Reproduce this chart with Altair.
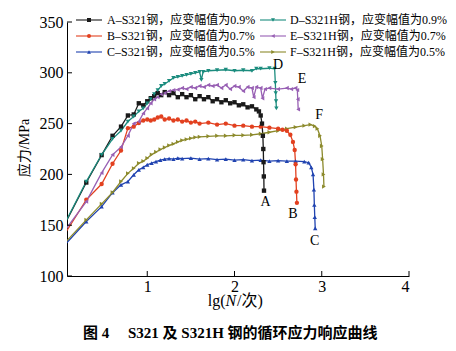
import altair as alt
import pandas as pd

SERIES = ["A", "B", "C", "D", "E", "F"]
COLORS = ["#1a1a1a", "#e2401f", "#2043b0", "#1b8c7e", "#9860b4", "#8c8a2c"]
SHAPES = ["square", "circle", "triangle-up", "triangle-down", "triangle-left", "triangle-right"]
LEGEND_LABELS = [
    "A–S321钢，应变幅值为0.9%",
    "B–S321钢，应变幅值为0.7%",
    "C–S321钢，应变幅值为0.5%",
    "D–S321H钢，应变幅值为0.9%",
    "E–S321H钢，应变幅值为0.7%",
    "F–S321H钢，应变幅值为0.5%",
]
X_TICKS = [1, 2, 3, 4]
Y_TICKS = [100, 150, 200, 250, 300, 350]

# lg(N) of the first ten cycles
HEAD_LG = [0.0, 0.301, 0.477, 0.602, 0.699, 0.778, 0.845, 0.903, 0.954, 1.0]

A_LG = HEAD_LG + [1.04, 1.08, 1.12, 1.16, 1.2, 1.25, 1.3, 1.35, 1.4, 1.45, 1.5, 1.55, 1.6, 1.65, 1.7,
                  1.75, 1.8, 1.85, 1.9, 1.95, 2.0, 2.05, 2.1, 2.15, 2.2, 2.25, 2.28, 2.3, 2.315, 2.325,
                  2.33, 2.333, 2.336, 2.338]
A_V = [142, 192, 219, 238, 247, 258, 259, 270, 268, 272,
       275, 277, 280, 278, 281, 278, 280, 276, 279, 276, 278, 274, 277, 274, 276,
       272, 274, 271, 273, 270, 271, 268, 269, 266, 267, 264, 262, 258, 250, 238,
       225, 212, 198, 184]

B_LG = HEAD_LG + [1.04, 1.08, 1.12, 1.16, 1.2, 1.25, 1.3, 1.35, 1.4, 1.45, 1.5, 1.55, 1.6, 1.7, 1.8,
                  1.9, 2.0, 2.1, 2.2, 2.3, 2.4, 2.5, 2.55, 2.6, 2.64, 2.67, 2.69, 2.7, 2.705, 2.71, 2.715]
B_V = [134, 175, 190.5, 210.5, 223.5, 245.5, 247, 250.5, 253, 254,
       253, 254, 256, 257, 254, 255, 253, 254, 252, 253, 251, 252, 250, 251, 249,
       250, 248, 248, 247, 247, 246, 245, 244, 243, 239, 232, 224, 210, 195, 183, 172]

C_LG = HEAD_LG + [1.05, 1.1, 1.15, 1.2, 1.25, 1.3, 1.35, 1.4, 1.5, 1.6, 1.7, 1.8, 1.9, 2.0, 2.1,
                  2.2, 2.3, 2.4, 2.5, 2.6, 2.7, 2.8, 2.85, 2.88, 2.9, 2.91, 2.915, 2.92, 2.925]
C_V = [125.5, 153.6, 168.3, 182, 189.7, 193, 199.6, 204.5, 207, 209.5,
       211, 212.5, 214, 215, 215.5, 215, 216, 215.5, 216, 215, 215.5, 214.5, 215, 214, 214.5,
       213.5, 214, 213, 213.5, 213, 213, 212.5, 211.5, 207, 200, 185, 170, 158, 147]

D_LG = HEAD_LG + [1.04, 1.08, 1.12, 1.16, 1.2, 1.25, 1.3, 1.35, 1.4, 1.45, 1.5, 1.55, 1.6, 1.62, 1.64,
                  1.7, 1.8, 1.9, 2.0, 2.1, 2.2, 2.25, 2.3, 2.4, 2.46, 2.468, 2.472, 2.476, 2.48]
D_V = [142.6, 193, 219.3, 235, 243, 252, 257, 262, 265, 270,
       274, 279, 283, 287, 289, 292, 295, 296, 297, 298, 299, 300, 301, 293, 301,
       302, 302.5, 303, 302, 302.5, 302, 304, 304, 304.5, 304, 290, 280, 272, 265]

E_LG = HEAD_LG + [1.04, 1.08, 1.12, 1.16, 1.2, 1.25, 1.3, 1.35, 1.4, 1.45, 1.5, 1.55, 1.6, 1.65, 1.7,
                  1.75, 1.8, 1.85, 1.9, 1.95, 2.0, 2.05, 2.1, 2.15, 2.2, 2.22, 2.25, 2.3, 2.32, 2.35,
                  2.4, 2.5, 2.6, 2.65, 2.7, 2.72, 2.725, 2.73]
E_V = [138.3, 173.3, 201.5, 219.3, 227, 238, 250, 252, 260, 265,
       270, 274, 276, 279, 280, 282, 283, 283.5, 285, 284, 286, 285, 287, 286, 288,
       287, 288, 285, 288, 284, 287, 286, 282, 286, 285, 276, 286, 285, 275, 284,
       285, 284, 285, 284, 285, 283, 274, 264]

F_LG = HEAD_LG + [1.05, 1.1, 1.15, 1.2, 1.25, 1.3, 1.35, 1.4, 1.45, 1.5, 1.55, 1.6, 1.7, 1.8, 1.9,
                  2.0, 2.1, 2.2, 2.3, 2.4, 2.5, 2.6, 2.7, 2.8, 2.87, 2.92, 2.95, 2.98, 3.0, 3.01,
                  3.02, 3.025]
F_V = [127.4, 155.2, 171, 182.2, 193, 201, 206, 211, 213, 216,
       219.5, 222, 224.5, 226.5, 228.5, 230, 232, 233.5, 234.5, 235.5, 236.5, 237, 237.5, 238, 238,
       238.5, 238.5, 239, 240, 241.5, 243, 245, 246.5, 248, 249, 247.5, 245, 238, 228, 215,
       200, 188]

# curve end labels (lg position, stress position)
END_LABEL_LG = [2.355, 2.67, 2.92, 2.5, 2.775, 2.97]
END_LABEL_V = [173, 161, 134, 308, 294, 258]

SERIF = "Liberation Serif, Noto Sans CJK SC"
NB = "\u00a0"

series_data = {"A": (A_LG, A_V), "B": (B_LG, B_V), "C": (C_LG, C_V),
               "D": (D_LG, D_V), "E": (E_LG, E_V), "F": (F_LG, F_V)}
rows = []
for s, (lgs, vs) in series_data.items():
    assert len(lgs) == len(vs), s
    for i, (x, y) in enumerate(zip(lgs, vs)):
        rows.append({"series": s, "lg": x, "v": y, "i": i})
df = pd.DataFrame(rows)

W, H = 342, 254
xs = alt.Scale(domain=[0.08, 4], nice=False, zero=False)
ys = alt.Scale(domain=[100, 350], nice=False, zero=False)
color = alt.Color("series:N", scale=alt.Scale(domain=SERIES, range=COLORS), legend=None)
shape = alt.Shape("series:N", scale=alt.Scale(domain=SERIES, range=SHAPES), legend=None)

xaxis = alt.Axis(values=X_TICKS, ticks=False, tickSize=0, grid=False, title=None,
                 labelFontSize=16, labelPadding=2, labelFont=SERIF, labelColor="black",
                 domainColor="black", format="d")
yaxis = alt.Axis(values=Y_TICKS, ticks=False, tickSize=0, grid=False, title=None,
                 labelFontSize=16, labelPadding=4, labelFont=SERIF, labelColor="black",
                 domainColor="black", format="d")

base = alt.Chart(df).encode(
    x=alt.X("lg:Q", scale=xs, axis=xaxis),
    y=alt.Y("v:Q", scale=ys, axis=yaxis),
    color=color,
    order="i:Q",
)
lines = base.mark_line(strokeWidth=1.3, clip=True)
points = base.mark_point(filled=True, size=19, opacity=1, clip=True).encode(shape=shape)

xt = alt.Chart(pd.DataFrame({"t": X_TICKS})).mark_rule(color="black", strokeWidth=1).encode(
    x=alt.X("t:Q", scale=xs, title=None), y=alt.value(H), y2=alt.value(H - 5))
yt = alt.Chart(pd.DataFrame({"t": Y_TICKS})).mark_rule(color="black", strokeWidth=1).encode(
    y=alt.Y("t:Q", scale=ys, title=None), x=alt.value(0), x2=alt.value(5))

end_labels = alt.Chart(pd.DataFrame({"s": SERIES, "lg": END_LABEL_LG, "v": END_LABEL_V})).mark_text(
    font=SERIF, fontSize=14, color="black").encode(
    x=alt.X("lg:Q", scale=xs, title=None), y=alt.Y("v:Q", scale=ys, title=None), text="s:N")

# legend (two columns, three rows)
leg = pd.DataFrame({
    "series": SERIES,
    "label": LEGEND_LABELS,
    "x1": [9, 9, 9, 193, 193, 193],
    "x2": [35, 35, 35, 219, 219, 219],
    "xm": [22, 22, 22, 206, 206, 206],
    "xt": [40, 40, 40, 223, 223, 223],
    "y": [-2, 14, 30, -2, 14, 30],
})
leg_base = alt.Chart(leg)
leg_lines = leg_base.mark_rule(strokeWidth=1.1).encode(
    x=alt.X("x1:Q", scale=None), x2="x2:Q", y=alt.Y("y:Q", scale=None), color=color)
leg_pts = leg_base.mark_point(filled=True, size=16, opacity=1).encode(
    x=alt.X("xm:Q", scale=None), y=alt.Y("y:Q", scale=None), color=color, shape=shape)
leg_text = leg_base.mark_text(align="left", baseline="middle", font=SERIF, fontSize=12,
                              color="black").encode(
    x=alt.X("xt:Q", scale=None), y=alt.Y("y:Q", scale=None), text="label:N")


def txt(s, x, y, **kw):
    return alt.Chart(pd.DataFrame({"t": [s]})).mark_text(font=SERIF, color="black", **kw).encode(
        text="t:N", x=alt.value(x), y=alt.value(y))


ytitle = txt("应力/MPa", -42, 126, fontSize=14, angle=270, align="center", baseline="middle")
xt1 = txt("lg(", 158.5, 279, fontSize=16, align="right", baseline="middle")
xt2 = txt("N", 158.5, 279, fontSize=16, fontStyle="italic", align="left", baseline="middle")
xt3 = txt("/次)", 170, 279, fontSize=16, align="left", baseline="middle")
caption_text = ("图" + NB + "4" + NB * 5 + "S321" + NB + "及" + NB + "S321H" + NB
                + "钢的循环应力响应曲线")
caption = txt(caption_text, 16, 311, fontSize=15, fontWeight="bold", align="left",
              baseline="middle")

chart = alt.layer(
    lines, points, xt, yt, end_labels, leg_lines, leg_pts, leg_text,
    ytitle, xt1, xt2, xt3, caption,
).properties(
    width=W, height=H,
    padding={"left": 67, "top": 22, "right": 47, "bottom": 75},
    autosize=alt.AutoSizeParams(type="none"),
    background="white",
).configure_view(stroke=None)

chart.save("out.html", embed_options={"renderer": "svg", "actions": False})
